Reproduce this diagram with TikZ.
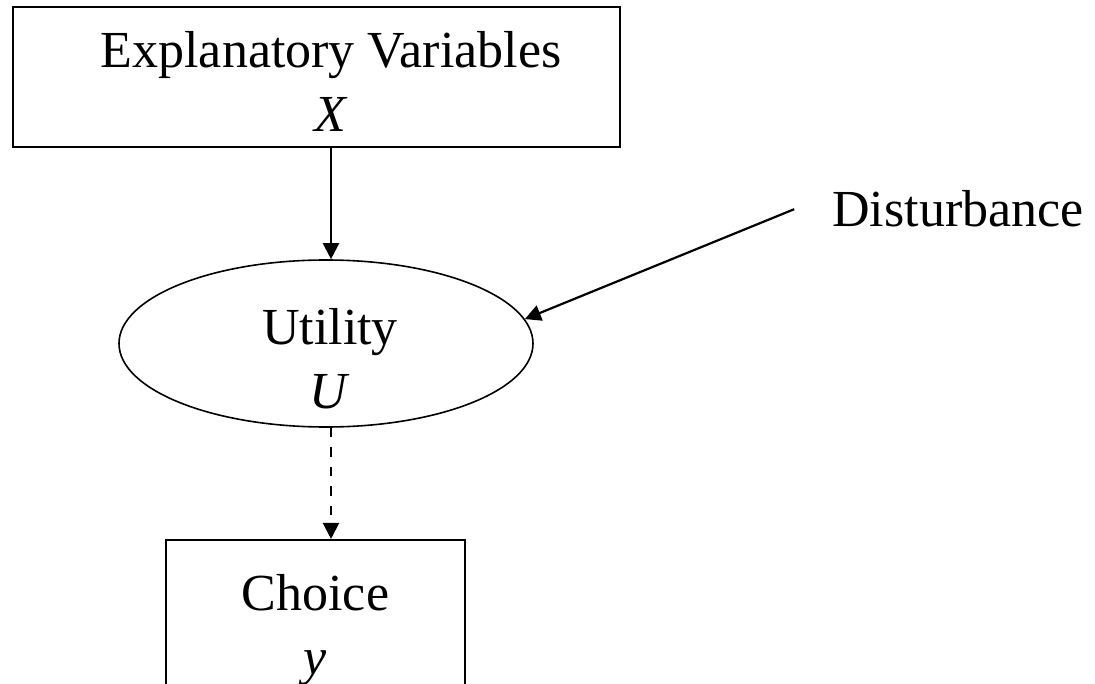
\documentclass[tikz,border=0pt]{standalone}
\usepackage{fontspec}
\setmainfont{Liberation Serif}
\usetikzlibrary{shapes.geometric,arrows.meta}
\newcommand\lblfont{\fontsize{52}{64}\selectfont}

\begin{document}
\begin{tikzpicture}[
x=1pt,y=-1pt,
box/.style={draw,line width=2.1pt,inner sep=0pt},
oval/.style={draw,ellipse,line width=1.6pt,inner sep=0pt},
lbl/.style={align=center,font=\lblfont,inner sep=0pt},
link/.style={line width=2.2pt,-{Triangle[width=16pt,length=16pt]}}
]
\useasboundingbox (0,0) rectangle (1095,684);
\clip (0,0) rectangle (1095,684);

% boxes and the utility oval
\node[box,minimum width=607pt,minimum height=140pt] (expl) at (316.5,77) {};
\node[lbl] (explText) at (331,81) {Explanatory Variables\\\textit{X}};
\node[oval,minimum width=414pt,minimum height=167pt] (util) at (326,343.5) {};
\node[lbl] (utilText) at (330,359) {Utility\\\textit{U}};
% choice box runs off the bottom edge
\node[box,lbl,minimum width=299pt,minimum height=180pt] (choice) at (315.5,630) {Choice\\\textit{y}};
\node[lbl,anchor=base] (dist) at (958,227) {Disturbance};

% links
\draw[link] (explText |- expl.south) -- (explText |- util.north);
\draw[link] ([xshift=-38pt]dist.west) -- (util.7.4);
\draw[link,dash pattern=on 9.5pt off 10pt] (explText |- util.south) -- (explText |- choice.north);
%\draw[link] (util.south) -- (choice.north);
\end{tikzpicture}
\end{document}
